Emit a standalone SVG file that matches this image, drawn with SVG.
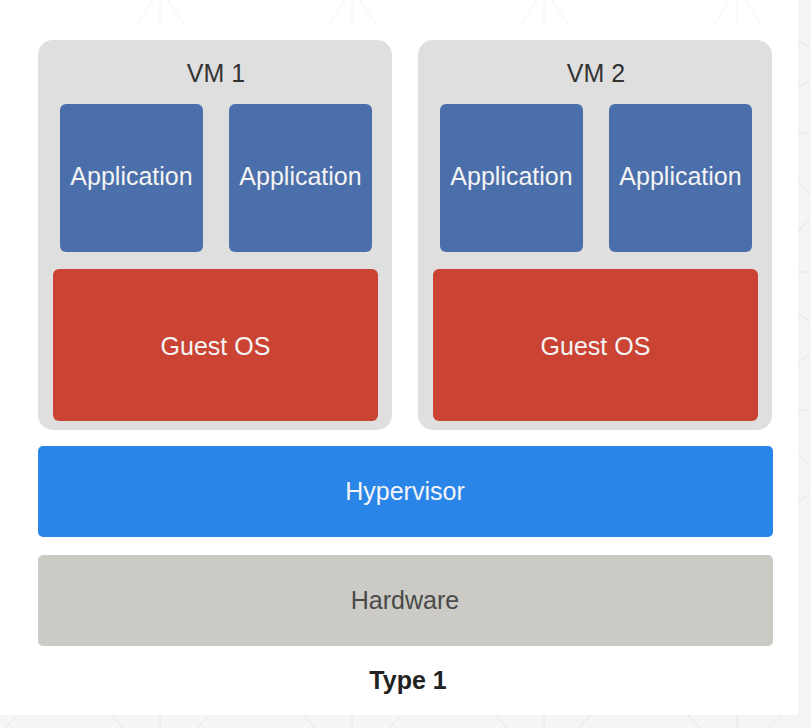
<svg xmlns="http://www.w3.org/2000/svg" width="811" height="728" viewBox="0 0 811 728">
<style>
.pat{stroke:#e6e6e6;stroke-width:1;fill:none}
.patw{stroke:#f3f3f3;stroke-width:1;fill:none}
.vm{fill:#dfdfdf}
.app{fill:#4b6faa}
.os{fill:#cb4332}
.hyp{fill:#2a85e8}
.hw{fill:#cbcac4}
text{font-family:"Liberation Sans",Arial,sans-serif;font-size:25px;text-anchor:middle}
.w{fill:#f4f4f4}
.d{fill:#333333}
.hwt{fill:#4a4a4a}
.title{font-weight:bold;fill:#222222}
</style>
<rect x="0" y="0" width="811" height="728" fill="#f5f5f5"/>
<g id="pattern">
<path class="pat" d="M160,715V728M352,715V728M544,715V728M737,715V728M18,715L5,728M111,715L123,728M210,715L197,728M303,715L315,728M402,715L389,728M495,715L507,728M591,715L579,728M688,715L700,728M782,715L769,728"/>
<path class="pat" d="M798,40L810,48M798,88L810,80M798,133H811M798,180L810,195M798,232L810,217M798,272H811M798,313L810,322M798,363L810,353M798,410H811M798,455L810,465M798,503L810,493"/>
</g>
<rect x="0" y="0" width="798" height="715" fill="#ffffff"/>
<g id="toppattern">
<path class="patw" d="M160,0V26M153,0L136,26M168,0L185,26M352,0V26M345,0L328,26M360,0L377,26M544,0V26M537,0L520,26M552,0L569,26M737,0V26M730,0L713,26M745,0L762,26"/>
</g>
<g id="vm1">
<rect class="vm" x="38" y="40" width="354" height="390" rx="15"/>
<text class="d" x="216" y="82">VM 1</text>
</g>
<g id="vm1-app1">
<rect class="app" x="60" y="104" width="143" height="148" rx="6"/>
<text class="w" x="131.5" y="185">Application</text>
</g>
<g id="vm1-app2">
<rect class="app" x="229" y="104" width="143" height="148" rx="6"/>
<text class="w" x="300.5" y="185">Application</text>
</g>
<g id="vm1-os">
<rect class="os" x="53" y="269" width="325" height="152" rx="6"/>
<text class="w" x="215.5" y="355">Guest OS</text>
</g>
<g id="vm2">
<rect class="vm" x="418" y="40" width="354" height="390" rx="15"/>
<text class="d" x="596" y="82">VM 2</text>
</g>
<g id="vm2-app1">
<rect class="app" x="440" y="104" width="143" height="148" rx="6"/>
<text class="w" x="511.5" y="185">Application</text>
</g>
<g id="vm2-app2">
<rect class="app" x="609" y="104" width="143" height="148" rx="6"/>
<text class="w" x="680.5" y="185">Application</text>
</g>
<g id="vm2-os">
<rect class="os" x="433" y="269" width="325" height="152" rx="6"/>
<text class="w" x="595.5" y="355">Guest OS</text>
</g>
<g id="hypervisor">
<rect class="hyp" x="38" y="446" width="735" height="91" rx="5"/>
<text class="w" x="405" y="500">Hypervisor</text>
</g>
<g id="hardware">
<rect class="hw" x="38" y="555" width="735" height="91" rx="5"/>
<text class="hwt" x="405" y="609">Hardware</text>
</g>
<g id="connectors"></g>
<g id="caption">
<text class="title" x="408" y="689">Type 1</text>
</g>
</svg>
